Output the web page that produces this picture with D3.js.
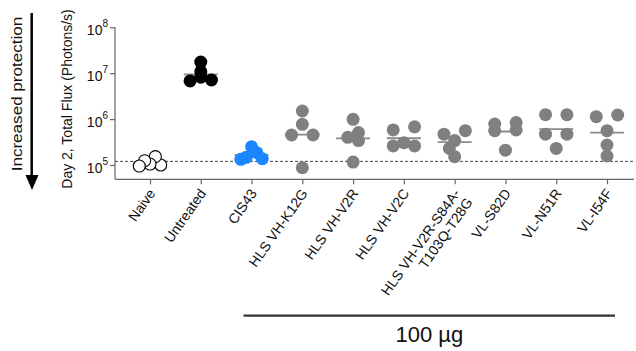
<!DOCTYPE html>
<html>
<head>
<meta charset="utf-8">
<script src="https://cdn.jsdelivr.net/npm/d3@7"></script>
<style>
  html, body { margin: 0; padding: 0; background: #fff; }
  svg { display: block; font-family: "Liberation Sans", Arial, sans-serif; }
</style>
</head>
<body>
<svg id="chart" width="636" height="351"></svg>
<script>
// Day-2 total flux per group (photons/s), five mice per group
const categories = ["Naive", "Untreated", "CIS43", "HLS VH-K12G", "HLS VH-V2R", "HLS VH-V2C",
  "HLS VH-V2R-S84A-\nT103Q-T28G", "VL-S82D", "VL-N51R", "VL-I54F"];
const naive     = [1.00e5, 1.52e5, 1.05e5, 1.24e5, 9.5e4];
const untreated = [1.75e7, 1.08e7, 6.8e6, 7.1e6, 8.2e6];
const cis43     = [2.5e5, 1.85e5, 1.33e5, 1.37e5, 1.47e5];
const vhK12G    = [1.5e6, 7.7e5, 4.5e5, 4.5e5, 8.7e4];
const vhV2R     = [9.9e5, 5.1e5, 3.4e5, 4.0e5, 1.16e5];
const vhV2C     = [5.8e5, 6.8e5, 2.6e5, 3.06e5, 2.6e5];
const vhV2RS84A = [4.7e5, 5.6e5, 3.4e5, 2.3e5, 1.52e5];
const vlS82D    = [8.4e5, 7.8e5, 5.6e5, 5.8e5, 2.1e5];
const vlN51R    = [1.25e6, 1.25e6, 4.7e5, 4.7e5, 2.3e5];
const vlI54F    = [1.13e6, 1.23e6, 5.6e5, 2.73e5, 1.57e5];
const seriesValues = [naive, untreated, cis43, vhK12G, vhV2R, vhV2C, vhV2RS84A, vlS82D, vlN51R, vlI54F];
const limitOfDetection = 1.2e5;
const yTickValues = [1e5, 1e6, 1e7, 1e8];
const doseLabel = "100 µg";
const doseGroups = categories.slice(2);

// marker styles per group
const fills   = ["#ffffff", "#000000", "#1a86ff", "#808080", "#808080", "#808080", "#808080", "#808080", "#808080", "#808080"];
const strokes = ["#000000", "none", "none", "none", "none", "none", "none", "none", "none", "none"];

const svg = d3.select("#chart");
const axisX0 = 115, axisX1 = 634, plotBottom = 179.3;
const r = 6.5;

const y = d3.scaleLog().domain([1e5, 1e8]).range([165, 27.3]);
const x = d3.scalePoint().domain(categories).range([150, 607]);

const axisColor = "#666";

// limit of detection
svg.append("line")
  .attr("x1", axisX0).attr("x2", axisX1)
  .attr("y1", y(limitOfDetection)).attr("y2", y(limitOfDetection))
  .attr("stroke", "#444").attr("stroke-width", 1).attr("stroke-dasharray", "3,2");

// y axis
const gy = svg.append("g").attr("transform", `translate(${axisX0},0)`)
  .call(d3.axisLeft(y).tickValues(yTickValues).tickSize(5).tickFormat(""));
gy.select(".domain").remove();
gy.selectAll(".tick line").attr("stroke", axisColor).attr("stroke-width", 1.2);
gy.selectAll(".tick text").each(function(d) {
  const t = d3.select(this)
    .attr("x", -7).attr("dy", "0.5em")
    .attr("fill", "#111").attr("font-size", 14).attr("text-anchor", "end");
  t.append("tspan").text("10");
  t.append("tspan").attr("font-size", 10).attr("dy", "-0.75em").text(Math.round(Math.log10(d)));
});
svg.append("line")
  .attr("x1", axisX0).attr("x2", axisX0)
  .attr("y1", y(1e8)).attr("y2", plotBottom)
  .attr("stroke", axisColor).attr("stroke-width", 1.2);

// x axis
const gx = svg.append("g").attr("transform", `translate(0,${plotBottom})`)
  .call(d3.axisBottom(x).tickSize(5).tickSizeOuter(0).tickFormat(""));
gx.select(".domain").remove();
gx.selectAll(".tick line").attr("stroke", axisColor).attr("stroke-width", 1.2);
svg.append("line")
  .attr("x1", axisX0).attr("x2", axisX1)
  .attr("y1", plotBottom).attr("y2", plotBottom)
  .attr("stroke", axisColor).attr("stroke-width", 1.2);

// rotated category labels
const labels = svg.append("g").selectAll("text").data(categories).join("text")
  .attr("transform", d => `translate(${x(d) + 6},${plotBottom + 14}) rotate(-55)`)
  .attr("text-anchor", "end").attr("font-size", 14).attr("fill", "#111");
labels.each(function(d) {
  const lines = d.split("\n");
  const t = d3.select(this);
  lines.forEach((ln, i) => t.append("tspan").attr("x", 0).attr("dy", i ? "1.1em" : 0).text(ln));
});

// y axis title
svg.append("text")
  .attr("transform", "translate(71.5,99) rotate(-90)")
  .attr("text-anchor", "middle").attr("font-size", 14).attr("fill", "#111")
  .text("Day 2, Total Flux (Photons/s)");

// protection arrow
svg.append("text")
  .attr("transform", "translate(21.5,94) rotate(-90) scale(1.22,1)")
  .attr("text-anchor", "middle").attr("font-size", 14).attr("fill", "#111")
  .text("Increased protection");
svg.append("line")
  .attr("x1", 31.7).attr("x2", 31.7).attr("y1", 13).attr("y2", 177)
  .attr("stroke", "#000").attr("stroke-width", 2.5);
svg.append("path")
  .attr("d", d3.line()([[25.5, 175], [38.5, 175], [32, 190]]) + "Z")
  .attr("fill", "#000");

// scatter layout: points that fall in the same narrow band of y are laid out
// side by side on a fixed horizontal grid; lone points stay centred unless they
// would sit on top of a neighbour.
function scatterOffsets(ys, step, minDist, band) {
  const order = d3.range(ys.length).sort((a, b) => ys[a] - ys[b]);
  const rows = [];
  order.forEach(i => {
    const last = rows[rows.length - 1];
    if (last && ys[i] - ys[last[0]] < band) last.push(i); else rows.push([i]);
  });
  const xs = new Array(ys.length);
  const placed = [];
  rows.forEach(row => {
    if (row.length === 1) {
      const i = row[0];
      const cands = [0, -step / 2, step / 2, -step, step, -1.5 * step, 1.5 * step];
      const c = cands.find(c => placed.every(p => Math.hypot(p.x - c, p.y - ys[i]) >= minDist));
      xs[i] = c === undefined ? 0 : c;
    } else if (row.length === 2) {
      const dy = ys[row[1]] - ys[row[0]];
      const off = dy > 3.5 ? step / 2 : step;
      xs[row[0]] = off;
      xs[row[1]] = -off;
    } else {
      const slots = [0, step, -step, 2 * step, -2 * step];
      row.forEach((i, k) => { xs[i] = slots[k]; });
    }
    row.forEach(i => placed.push({ x: xs[i], y: ys[i] }));
  });
  return xs;
}

const groups = svg.append("g");
categories.forEach((cat, gi) => {
  const vals = seriesValues[gi];
  const ys = vals.map(v => y(v));
  const xs = scatterOffsets(ys, 10.7, 8, 5);
  const g = groups.append("g");
  // geometric mean line
  const gm = Math.pow(10, d3.mean(vals, v => Math.log10(v)));
  g.append("line")
    .attr("x1", x(cat) - 17).attr("x2", x(cat) + 17)
    .attr("y1", y(gm)).attr("y2", y(gm))
    .attr("stroke", "#8a8a8a").attr("stroke-width", 1.8);
  g.selectAll("circle").data(vals).join("circle")
    .attr("cx", (v, i) => x(cat) + xs[i])
    .attr("cy", v => y(v))
    .attr("r", strokes[gi] === "none" ? r : r - 0.5)
    .attr("fill", fills[gi])
    .attr("stroke", strokes[gi])
    .attr("stroke-width", 1.1);
});

// dose bracket under the treated groups
const bx0 = x(doseGroups[0]) - 8, bx1 = x(doseGroups[doseGroups.length - 1]) + 8;
svg.append("line")
  .attr("x1", bx0).attr("x2", bx1).attr("y1", 315.7).attr("y2", 315.7)
  .attr("stroke", "#333").attr("stroke-width", 2.2);
svg.append("text")
  .attr("x", (bx0 + bx1) / 2).attr("y", 341.5)
  .attr("text-anchor", "middle").attr("font-size", 22).attr("fill", "#111")
  .text(doseLabel);
</script>
</body>
</html>
